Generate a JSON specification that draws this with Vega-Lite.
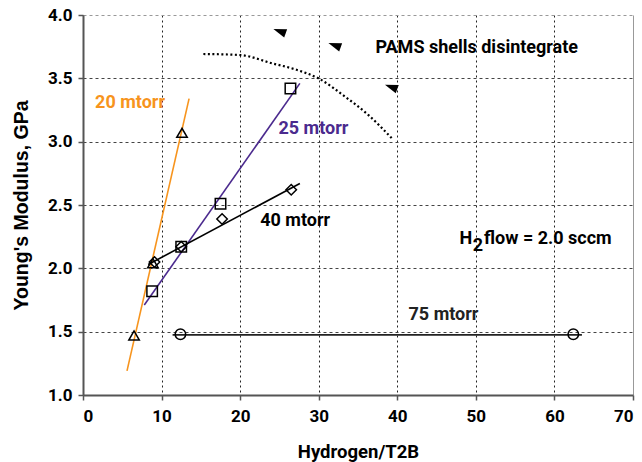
{
  "$schema": "https://vega.github.io/schema/vega-lite/v6.json",
  "width": 550,
  "height": 380,
  "autosize": {"type": "none"},
  "padding": {"left": 83, "top": 15, "right": 9, "bottom": 67},
  "config": {
    "view": {"stroke": null},
    "font": "Roboto",
    "axis": {"labelFont": "Roboto", "titleFont": "Roboto", "labelFontWeight": "bold", "titleFontWeight": "bold", "labelColor": "#000", "titleColor": "#000", "labelFontSize": 17, "titleFontSize": 18.5}
  },
  "datasets": {
    "points": [
      {"h": 6.5, "e": 1.47, "series": "20 mtorr"},
      {"h": 8.9, "e": 2.04, "series": "20 mtorr"},
      {"h": 12.6, "e": 3.07, "series": "20 mtorr"},
      {"h": 8.8, "e": 1.82, "series": "25 mtorr"},
      {"h": 12.5, "e": 2.17, "series": "25 mtorr"},
      {"h": 17.5, "e": 2.51, "series": "25 mtorr"},
      {"h": 26.4, "e": 3.42, "series": "25 mtorr"},
      {"h": 9.1, "e": 2.05, "series": "40 mtorr"},
      {"h": 12.5, "e": 2.17, "series": "40 mtorr"},
      {"h": 17.7, "e": 2.39, "series": "40 mtorr"},
      {"h": 26.5, "e": 2.62, "series": "40 mtorr"},
      {"h": 12.4, "e": 1.48, "series": "75 mtorr"},
      {"h": 62.4, "e": 1.48, "series": "75 mtorr"}
    ],
    "fits": [
      {"h": 5.6, "e": 1.19, "series": "20 mtorr"},
      {"h": 13.5, "e": 3.34, "series": "20 mtorr"},
      {"h": 7.8, "e": 1.71, "series": "25 mtorr"},
      {"h": 27.6, "e": 3.46, "series": "25 mtorr"},
      {"h": 8.3, "e": 2.03, "series": "40 mtorr"},
      {"h": 27.6, "e": 2.67, "series": "40 mtorr"},
      {"h": 11.4, "e": 1.475, "series": "75 mtorr"},
      {"h": 63.5, "e": 1.475, "series": "75 mtorr"}
    ],
    "curve": [
      {"h": 15.32, "e": 3.692, "o": 1},
      {"h": 20.0, "e": 3.684, "o": 2},
      {"h": 24.03, "e": 3.619, "o": 3},
      {"h": 27.0, "e": 3.571, "o": 4},
      {"h": 29.96, "e": 3.50, "o": 5},
      {"h": 33.36, "e": 3.355, "o": 6},
      {"h": 36.33, "e": 3.21, "o": 7},
      {"h": 39.3, "e": 3.027, "o": 8}
    ],
    "arrows": [
      {"h": 25.1, "e": 3.87},
      {"h": 32.1, "e": 3.76},
      {"h": 39.3, "e": 3.43}
    ],
    "labels": [
      {"h": 5.99, "e": 3.305, "text": "20 mtorr", "series": "20 mtorr"},
      {"h": 29.33, "e": 3.098, "text": "25 mtorr", "series": "25 mtorr"},
      {"h": 27.0, "e": 2.37, "text": "40 mtorr", "series": "40 mtorr"},
      {"h": 45.88, "e": 1.632, "text": "75 mtorr", "series": "75 mtorr"},
      {"h": 50.11, "e": 3.737, "text": "PAMS shells disintegrate", "series": "note"}
    ],
    "h2": [
      {"h": 47.92, "e": 2.229, "text": "H"},
      {"h": 51.04, "e": 2.229, "text": "flow = 2.0 sccm"}
    ],
    "sub": [
      {"h": 49.6, "e": 2.229, "text": "2"}
    ]
  },
  "layer": [
    {
      "data": {"name": "fits"},
      "mark": {"type": "line", "strokeWidth": 1.6},
      "encoding": {
        "x": {"field": "h", "type": "quantitative", "scale": {"domain": [0, 70], "nice": false},
          "axis": {"title": "Hydrogen/T2B", "values": [0, 10, 20, 30, 40, 50, 60, 70], "grid": true,
            "gridColor": {"condition": {"test": "datum.value === 70", "value": "#999999"}, "value": "#222222"},
            "gridDash": {"condition": {"test": "datum.value === 70", "value": []}, "value": [2, 3]},
            "domainColor": "#555555", "domainWidth": 2, "tickColor": "#555555", "tickSize": 5, "tickWidth": 1.5,
            "labelPadding": 8, "titlePadding": 18}},
        "y": {"field": "e", "type": "quantitative", "scale": {"domain": [1, 4], "nice": false},
          "axis": {"title": "Young's Modulus, GPa", "titleFont": "Liberation Sans", "titleFontSize": 19.5, "values": [1, 1.5, 2, 2.5, 3, 3.5, 4], "format": ".1f", "grid": true,
            "gridColor": {"condition": {"test": "datum.value === 4", "value": "#999999"}, "value": "#444444"},
            "gridDash": [3, 3],
            "domainColor": "#555555", "domainWidth": 2, "tickColor": "#555555", "tickSize": 5, "tickWidth": 1.5,
            "labelPadding": 6, "titlePadding": 16}},
        "detail": {"field": "series"},
        "color": {"field": "series", "type": "nominal", "legend": null,
          "scale": {"domain": ["20 mtorr", "25 mtorr", "40 mtorr", "75 mtorr", "note"], "range": ["#F7941D", "#4B2A8E", "#000000", "#222222", "#000000"]}},
        "strokeWidth": {"condition": {"test": "datum.series === '75 mtorr'", "value": 2.4}, "value": 1.6}
      }
    },
    {
      "data": {"name": "curve"},
      "mark": {"type": "line", "color": "#000000", "strokeWidth": 2.2, "strokeDash": [2, 2.5], "interpolate": "monotone"},
      "encoding": {
        "x": {"field": "h", "type": "quantitative"},
        "y": {"field": "e", "type": "quantitative"},
        "order": {"field": "o"}
      }
    },
    {
      "data": {"name": "arrows"},
      "mark": {"type": "point", "shape": "M -1 0 L 0.8 -0.6 L 0.8 0.6 Z", "filled": true, "color": "#000000", "size": 210, "angle": 20, "opacity": 1},
      "encoding": {
        "x": {"field": "h", "type": "quantitative"},
        "y": {"field": "e", "type": "quantitative"}
      }
    },
    {
      "data": {"name": "points"},
      "mark": {"type": "point", "filled": false, "color": "#000000", "strokeWidth": 1.5, "size": 110, "opacity": 1},
      "encoding": {
        "x": {"field": "h", "type": "quantitative"},
        "y": {"field": "e", "type": "quantitative"},
        "shape": {"field": "series", "type": "nominal", "legend": null,
          "scale": {"domain": ["20 mtorr", "25 mtorr", "40 mtorr", "75 mtorr"], "range": ["triangle-up", "square", "diamond", "circle"]}}
      }
    },
    {
      "data": {"name": "labels"},
      "mark": {"type": "text", "font": "Roboto", "fontSize": 18, "fontWeight": "bold", "align": "center", "baseline": "middle"},
      "encoding": {
        "x": {"field": "h", "type": "quantitative"},
        "y": {"field": "e", "type": "quantitative"},
        "text": {"field": "text"},
        "color": {"field": "series", "type": "nominal", "legend": null,
          "scale": {"domain": ["20 mtorr", "25 mtorr", "40 mtorr", "75 mtorr", "note"], "range": ["#F0B030", "#4B2C8A", "#000000", "#1A9446", "#000000"]}}
      }
    },
    {
      "data": {"name": "h2"},
      "mark": {"type": "text", "font": "Roboto", "fontSize": 18, "fontWeight": "bold", "align": "left", "baseline": "middle", "color": "#000000"},
      "encoding": {
        "x": {"field": "h", "type": "quantitative"},
        "y": {"field": "e", "type": "quantitative"},
        "text": {"field": "text"}
      }
    },
    {
      "data": {"name": "sub"},
      "mark": {"type": "text", "font": "Roboto", "fontSize": 18, "fontWeight": "bold", "align": "left", "baseline": "middle", "color": "#000000", "dy": 7},
      "encoding": {
        "x": {"field": "h", "type": "quantitative"},
        "y": {"field": "e", "type": "quantitative"},
        "text": {"field": "text"}
      }
    }
  ]
}
